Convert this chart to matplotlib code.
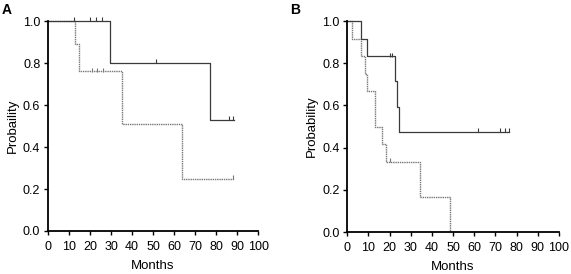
import matplotlib.pyplot as plt

plt.rcParams['font.family'] = ['Liberation Sans', 'DejaVu Sans']

# Panel A
a_solid_t = [0, 29.5, 77, 88.5]
a_solid_s = [1.0, 0.80, 0.53, 0.53]
a_solid_cens_t = [12.5, 20, 23, 25.5, 51.5, 86, 88]
a_solid_cens_s = [1.0, 1.0, 1.0, 1.0, 0.80, 0.53, 0.53]

a_dot_t = [0, 13, 15, 35, 64, 88.5]
a_dot_s = [1.0, 0.89, 0.76, 0.51, 0.25, 0.25]
a_dot_cens_t = [21, 23.5, 26, 88]
a_dot_cens_s = [0.76, 0.76, 0.76, 0.25]

# Panel B
b_solid_t = [0, 6.3, 9.2, 22.4, 23.4, 24.5, 76.6]
b_solid_s = [1.0, 0.917, 0.833, 0.714, 0.595, 0.476, 0.476]
b_solid_cens_t = [20, 21, 61.6, 72.3, 74.5, 76.5]
b_solid_cens_s = [0.833, 0.833, 0.476, 0.476, 0.476, 0.476]

b_dot_t = [0, 2.2, 6.6, 8.5, 9.3, 13.3, 16.3, 18.2, 34.4, 48.5]
b_dot_s = [1.0, 0.917, 0.833, 0.75, 0.667, 0.5, 0.417, 0.333, 0.167, 0.0]
b_dot_cens_t = [20.2]
b_dot_cens_s = [0.333]

xticks = list(range(0, 101, 10))
yticks = [0.0, 0.2, 0.4, 0.6, 0.8, 1.0]


def draw_panel(ax, solid, dotted, ylabel):
    (st, ss, sct, scs) = solid
    (dt, ds, dct, dcs) = dotted
    ax.step(dt, ds, where='post', color='#777777', lw=1.0,
            linestyle=(0, (1, 0.6)), clip_on=False)
    ax.step(st, ss, where='post', color='#3a3a3a', lw=0.9, clip_on=False)
    ax.plot(sct, [s + 0.008 for s in scs], linestyle='none', marker='|',
            ms=3.5, mew=0.8, color='#3a3a3a', clip_on=False)
    ax.plot(dct, [s + 0.008 for s in dcs], linestyle='none', marker='|',
            ms=3.5, mew=0.8, color='#777777', clip_on=False)
    ax.set_xlim(0, 100)
    ax.set_ylim(0, 1)
    ax.set_xticks(xticks)
    ax.set_yticks(yticks)
    ax.set_yticklabels([f'{v:.1f}' for v in yticks])
    ax.spines['top'].set_visible(False)
    ax.spines['right'].set_visible(False)
    ax.spines['left'].set_linewidth(1.3)
    ax.spines['bottom'].set_linewidth(1.3)
    ax.tick_params(direction='out', length=3, width=1, labelsize=9)
    ax.tick_params(axis='x', pad=4.5)
    ax.tick_params(axis='y', pad=2.5)
    ax.set_xlabel('Months', fontsize=9.5, labelpad=5)
    ax.set_ylabel(ylabel, fontsize=9.5, labelpad=3)


fig = plt.figure(figsize=(5.71, 2.74), dpi=100)
ax1 = fig.add_axes([0.084, 0.157, 0.368, 0.766])
ax2 = fig.add_axes([0.608, 0.153, 0.371, 0.770])

draw_panel(ax1, (a_solid_t, a_solid_s, a_solid_cens_t, a_solid_cens_s),
           (a_dot_t, a_dot_s, a_dot_cens_t, a_dot_cens_s), 'Probaility')
draw_panel(ax2, (b_solid_t, b_solid_s, b_solid_cens_t, b_solid_cens_s),
           (b_dot_t, b_dot_s, b_dot_cens_t, b_dot_cens_s), 'Probability')

fig.text(0.003, 0.99, 'A', fontsize=10, fontweight='bold', va='top')
fig.text(0.508, 0.99, 'B', fontsize=10, fontweight='bold', va='top')

fig.savefig('out.png', dpi=100)
